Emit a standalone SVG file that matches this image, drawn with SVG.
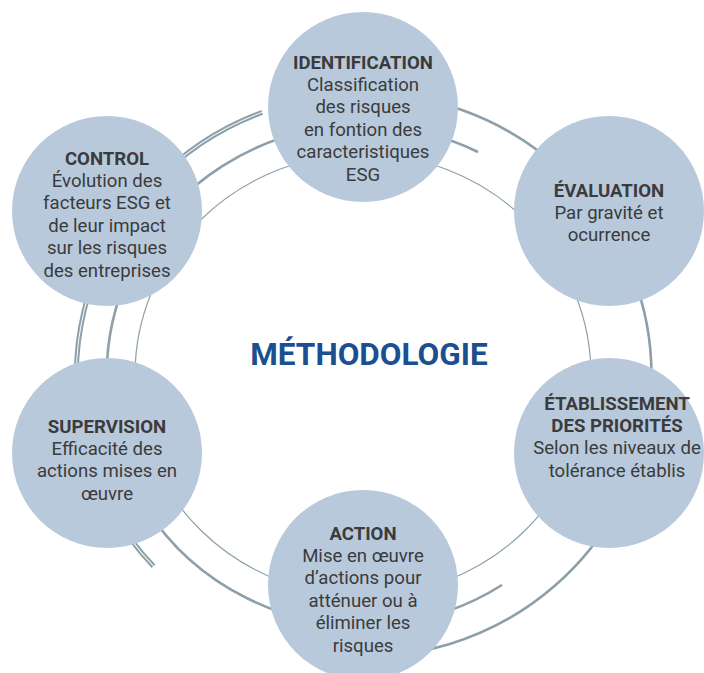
<svg xmlns="http://www.w3.org/2000/svg" width="704" height="673" viewBox="0 0 704 673">
<style>
.ring{fill:none;stroke:#8da0aa}
.node{fill:#b8c9dc}
.t{font-family:Roboto,"Liberation Sans",sans-serif;font-size:18.6px;fill:#3b3b3b;text-anchor:middle}
.b{font-weight:bold}
.title{font-family:Roboto,"Liberation Sans",sans-serif;font-size:31.5px;font-weight:bold;fill:#1b4f91;text-anchor:middle}
</style>
<rect width="704" height="673" fill="#ffffff"/>
<g id="connectors">
<ellipse class="ring" cx="363" cy="375" rx="228" ry="221" stroke-width="1.2"/>
<path class="ring" d="M502,585 A256,250 0 1 1 478,152" stroke-width="2.6"/>
<path class="ring" d="M353,93.2 A288,282 0 1 1 337.9,655.9" stroke-width="2.6"/>
<path class="ring" d="M152.4,567.3 A288,282 0 0 1 261.7,111" stroke-width="2"/>
<path class="ring" d="M154.6,565.3 A285,279 0 0 1 262.7,113.8" stroke-width="2"/>
</g>
<text class="title" x="369" y="365">MÉTHODOLOGIE</text>
<g id="identification">
<circle class="node" cx="363" cy="107" r="95"/>
<text class="t"><tspan class="b" x="363" y="68.5">IDENTIFICATION</tspan><tspan x="363" y="90.9">Classification</tspan><tspan x="363" y="113.3">des risques</tspan><tspan x="363" y="135.7">en fontion des</tspan><tspan x="363" y="158.1">caracteristiques</tspan><tspan x="363" y="180.5">ESG</tspan></text>
</g>
<g id="evaluation">
<circle class="node" cx="609" cy="211" r="95"/>
<text class="t"><tspan class="b" x="609" y="196.5">ÉVALUATION</tspan><tspan x="609" y="218.9">Par gravité et</tspan><tspan x="609" y="241.3">ocurrence</tspan></text>
</g>
<g id="etablissement">
<circle class="node" cx="609" cy="453" r="95"/>
<text class="t"><tspan class="b" x="617" y="409.5">ÉTABLISSEMENT</tspan><tspan class="b" x="617" y="431.9">DES PRIORITÉS</tspan><tspan x="617" y="454.3">Selon les niveaux de</tspan><tspan x="617" y="476.7">tolérance établis</tspan></text>
</g>
<g id="action">
<circle class="node" cx="363" cy="585" r="95"/>
<text class="t"><tspan class="b" x="363" y="539.5">ACTION</tspan><tspan x="363" y="561.9">Mise en œuvre</tspan><tspan x="363" y="584.3">d’actions pour</tspan><tspan x="363" y="606.7">atténuer ou à</tspan><tspan x="363" y="629.1">éliminer les</tspan><tspan x="363" y="651.5">risques</tspan></text>
</g>
<g id="supervision">
<circle class="node" cx="107" cy="453" r="95"/>
<text class="t"><tspan class="b" x="107" y="432.5">SUPERVISION</tspan><tspan x="107" y="454.9">Efficacité des</tspan><tspan x="107" y="477.3">actions mises en</tspan><tspan x="107" y="499.7">œuvre</tspan></text>
</g>
<g id="control">
<circle class="node" cx="107" cy="211" r="95"/>
<text class="t"><tspan class="b" x="107" y="164.5">CONTROL</tspan><tspan x="107" y="186.9">Évolution des</tspan><tspan x="107" y="209.3">facteurs ESG et</tspan><tspan x="107" y="231.7">de leur impact</tspan><tspan x="107" y="254.1">sur les risques</tspan><tspan x="107" y="276.5">des entreprises</tspan></text>
</g>
</svg>
